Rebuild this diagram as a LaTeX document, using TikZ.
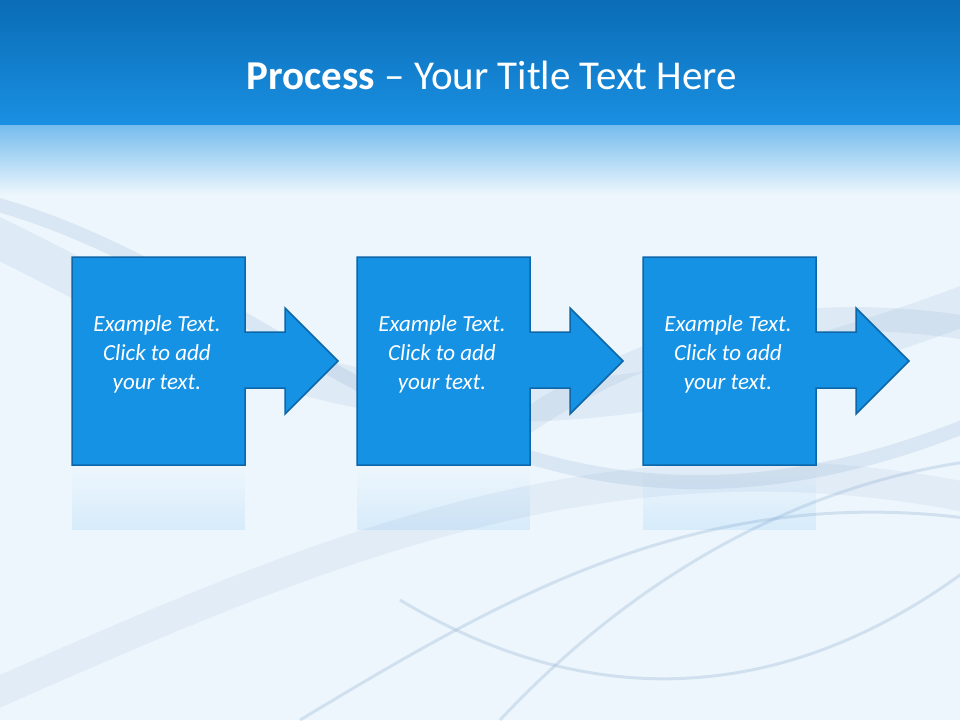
\documentclass[tikz,border=0pt]{standalone}
\usepackage{fontspec}
\setmainfont{Carlito}
\usetikzlibrary{fadings}
\definecolor{bandtop}{HTML}{0A6CB6}
\definecolor{bandbot}{HTML}{1A90E2}
\definecolor{boxfill}{HTML}{1592E4}
\definecolor{boxline}{HTML}{0D66A8}
\definecolor{wave}{HTML}{9FB8D6}
\tikzset{
  procshape/.style={fill=boxfill,draw=boxline,line width=1.5pt,line join=miter},
  proctext/.style={text=white,font=\itshape\fontsize{23}{29}\selectfont,align=center},
  wavestyle/.style={draw=wave,line width=14pt,opacity=0.25,line cap=round},
  thinwave/.style={draw=wave,line width=3pt,opacity=0.35}
}
\begin{document}
\begin{tikzpicture}[x=1pt,y=-1pt]
\useasboundingbox (0,0) rectangle (960,720);
\fill[white!92!bandbot] (0,0) rectangle (960,720);
% waves
\draw[wavestyle,line width=40pt,opacity=0.18] (-20,230) .. controls (200,330) and (400,520) .. (980,300);
\draw[wavestyle] (-20,200) .. controls (300,280) and (500,620) .. (980,420);
\draw[wavestyle,line width=30pt,opacity=0.15] (-20,700) .. controls (300,560) and (600,420) .. (980,500);
\draw[thinwave] (300,720) .. controls (500,600) and (700,480) .. (980,520);
\draw[thinwave] (400,600) .. controls (600,720) and (800,700) .. (980,560);
\draw[thinwave] (500,720) .. controls (650,560) and (820,480) .. (980,460);
\draw[wavestyle,line width=24pt,opacity=0.2] (500,440) .. controls (650,330) and (800,300) .. (980,330);
% title band
\shade[top color=bandtop,bottom color=bandbot] (0,0) rectangle (960,125);
\shade[top color=bandbot!60!white,bottom color=white!92!bandbot] (0,125) rectangle (960,195);
\node[text=white,font=\fontsize{41}{44}\selectfont] (title) at (492,75) {\textbf{Process} – Your Title Text Here};
% shapes
\foreach \i/\dx in {1/0,2/285,3/571}{
  \begin{scope}[xshift=\dx]
  \fill[boxfill,opacity=0.10,path fading=north] (72,467) rectangle (245,530);
  \path[procshape] (72,257) -- (245,257) -- (245,332) -- (285,332) -- (285,308) -- (338,361) -- (285,414) -- (285,388) -- (245,388) -- (245,465) -- (72,465) -- cycle;
  \node[proctext] (t\i) at (157,354) {Example Text.\\Click to add\\your text.};
  \end{scope}
}
\end{tikzpicture}
\end{document}
